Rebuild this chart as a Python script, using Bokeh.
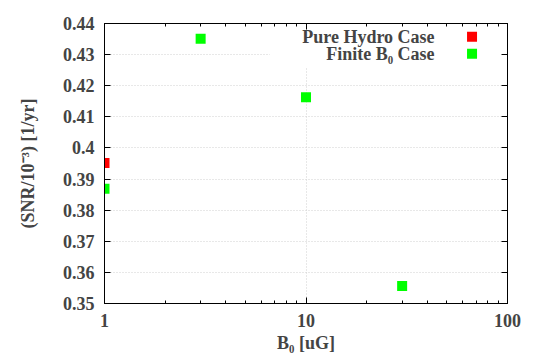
from bokeh.plotting import figure
from bokeh.models import (LogAxis, LinearAxis, FixedTicker, BoxAnnotation, Label, Range1d)
from bokeh.embed import file_html
from bokeh.resources import INLINE

# ---- data ----
hydro_b0 = [1]
hydro_snr = [0.3952]
finite_b0 = [1, 3, 10, 30]
finite_snr = [0.3869, 0.4351, 0.4163, 0.3556]

x_ticks = [1, 10, 100]
x_tick_labels = ["1", "10", "100"]
y_ticks = [0.35, 0.36, 0.37, 0.38, 0.39, 0.40, 0.41, 0.42, 0.43, 0.44]
y_tick_labels = ["0.35", "0.36", "0.37", "0.38", "0.39", "0.4", "0.41", "0.42", "0.43", "0.44"]
series_names = ["Pure Hydro Case", "Finite B\u2080 Case"]
series_colors = ["#ff0000", "#00ff00"]

FONT = "Liberation Serif"
FS = "18px"
FS_TICK = "18px"

x0, x1 = 1, 100
y0, y1 = 0.35, 0.44

p = figure(x_axis_type="log", x_range=Range1d(x0, x1), y_range=Range1d(y0, y1),
           width=533, height=356,
           min_border_left=104, min_border_top=23, min_border_right=26, min_border_bottom=53,
           output_backend="svg", toolbar_location=None)
p.background_fill_color = "white"
p.border_fill_color = "white"
p.outline_line_color = "black"
p.outline_line_width = 1

minor_x = [m * 10 ** d for d in (0, 1) for m in range(2, 10)]
xt = FixedTicker(ticks=x_ticks, minor_ticks=minor_x)
yt = FixedTicker(ticks=y_ticks)

p.xaxis.ticker = xt
p.yaxis.ticker = yt
p.xaxis.major_label_overrides = dict(zip(x_ticks, x_tick_labels))
p.yaxis.major_label_overrides = dict(zip(y_ticks, y_tick_labels))
p.xaxis.axis_label = "B\u2080 [uG]"
p.yaxis.axis_label = "(SNR/10\u207b\u00b3) [1/yr]"

for ax in [p.xaxis[0], p.yaxis[0]]:
    ax.major_label_text_font = FONT
    ax.major_label_text_font_style = "bold"
    ax.major_label_text_font_size = FS_TICK
    ax.axis_label_text_font = FONT
    ax.axis_label_text_font_style = "bold"
    ax.axis_label_text_font_size = FS
    ax.major_tick_in = 6
    ax.major_tick_out = 0
    ax.minor_tick_in = 3
    ax.minor_tick_out = 0
    ax.axis_line_color = "black"
    ax.major_tick_line_color = "black"
    ax.minor_tick_line_color = "black"
p.yaxis.minor_tick_in = 0
p.xaxis.major_label_standoff = 10
p.xaxis.axis_label_standoff = 3
p.yaxis.major_label_standoff = 10
p.yaxis.axis_label_standoff = 22

top = LogAxis(ticker=xt, major_label_overrides={t: "" for t in x_ticks},
              major_tick_in=6, major_tick_out=0, minor_tick_in=3, minor_tick_out=0,
              major_label_standoff=0)
right = LinearAxis(ticker=yt, major_label_overrides={t: "" for t in y_ticks},
                   major_tick_in=6, major_tick_out=0, minor_tick_in=0, minor_tick_out=0,
                   major_label_standoff=0)
p.add_layout(top, "above")
p.add_layout(right, "right")

for g in [p.xgrid[0], p.ygrid[0]]:
    g.grid_line_color = "#d0d0d0"
    g.grid_line_dash = "1 2"
    g.grid_line_width = 1

# legend area (white box hiding grid)
lx = lambda f: 10 ** (f * 2)
ly = lambda f: y1 - f * (y1 - y0)
p.add_layout(BoxAnnotation(left=lx(0.41), right=x1, bottom=ly(0.155), top=y1,
                           fill_color="white", fill_alpha=1, line_color=None, level="underlay"))

p.scatter(hydro_b0, hydro_snr, marker="square", size=10, color=series_colors[0], line_color=None)
p.scatter(finite_b0, finite_snr, marker="square", size=10, color=series_colors[1], line_color=None)

leg_y = [ly(0.0475), ly(0.108)]
for name, col, yy in zip(series_names, series_colors, leg_y):
    p.add_layout(Label(x=lx(0.819), y=yy, text=name, text_align="right", text_baseline="middle",
                       text_font=FONT, text_font_style="bold", text_font_size=FS))
    p.scatter([lx(0.912)], [yy], marker="square", size=10, color=col, line_color=None)

open("out.html", "w").write(file_html(p, INLINE))
